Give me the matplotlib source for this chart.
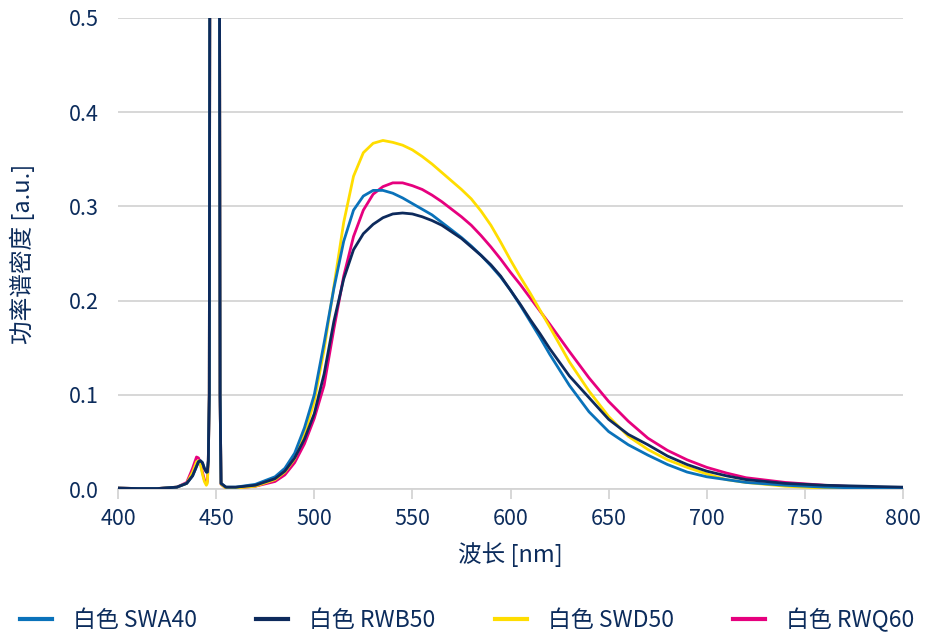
import matplotlib
matplotlib.use('Agg')
import matplotlib.pyplot as plt

plt.rcParams['font.family'] = ['Noto Sans CJK SC', 'DejaVu Sans']

TEXT = '#0c2c5c'
GRID = '#d4d4d4'

# wavelength grid (nm) shared by all four spectra
wavelength = [400, 410, 420, 430, 435, 438, 440, 441, 442, 443, 444, 445, 445.5,
              446, 446.5, 447, 449, 451.5, 452, 452.5, 455, 460, 470, 480, 485,
              490, 495, 500, 505, 510, 515, 520, 525, 530, 535, 540, 545, 550,
              555, 560, 565, 570, 575, 580, 585, 590, 595, 600, 605, 610, 615,
              620, 630, 640, 650, 660, 670, 680, 690, 700, 710, 720, 740, 760,
              780, 800]

swa40 = [0.001, 0.0005, 0.0005, 0.002, 0.006, 0.014, 0.024, 0.029, 0.030, 0.028,
         0.022, 0.018, 0.018, 0.03, 0.1, 0.9, 1.0, 0.9, 0.1, 0.006, 0.002, 0.002,
         0.005, 0.013, 0.022, 0.038, 0.065, 0.100, 0.155, 0.213, 0.263, 0.296,
         0.311, 0.317, 0.317, 0.314, 0.309, 0.303, 0.297, 0.291, 0.283, 0.275,
         0.267, 0.258, 0.248, 0.237, 0.225, 0.211, 0.195, 0.178, 0.161, 0.143,
         0.110, 0.082, 0.061, 0.047, 0.036, 0.026, 0.018, 0.013, 0.010, 0.007,
         0.004, 0.002, 0.001, 0.001]

rwb50 = [0.001, 0.0005, 0.0005, 0.002, 0.006, 0.014, 0.024, 0.029, 0.030, 0.028,
         0.022, 0.018, 0.018, 0.03, 0.1, 0.9, 1.0, 0.9, 0.1, 0.006, 0.002, 0.002,
         0.004, 0.011, 0.019, 0.033, 0.053, 0.080, 0.122, 0.178, 0.223, 0.254,
         0.271, 0.281, 0.288, 0.292, 0.293, 0.292, 0.289, 0.285, 0.280, 0.273,
         0.266, 0.257, 0.248, 0.238, 0.226, 0.211, 0.196, 0.180, 0.165, 0.149,
         0.120, 0.097, 0.074, 0.058, 0.047, 0.035, 0.026, 0.019, 0.014, 0.010,
         0.006, 0.004, 0.003, 0.002]

swd50 = [0.001, 0.0005, 0.0005, 0.002, 0.006, 0.018, 0.029, 0.030, 0.026, 0.016,
         0.008, 0.004, 0.006, 0.03, 0.1, 0.9, 1.0, 0.9, 0.1, 0.005, 0.001, 0.001,
         0.003, 0.010, 0.018, 0.032, 0.058, 0.093, 0.148, 0.215, 0.283, 0.332,
         0.357, 0.367, 0.370, 0.368, 0.365, 0.360, 0.353, 0.345, 0.336, 0.327,
         0.318, 0.308, 0.295, 0.280, 0.262, 0.243, 0.225, 0.208, 0.190, 0.172,
         0.135, 0.104, 0.077, 0.056, 0.042, 0.031, 0.023, 0.016, 0.010, 0.007,
         0.003, 0.001, 0.0005, 0.0005]

rwq60 = [0.001, 0.0005, 0.0005, 0.002, 0.007, 0.022, 0.034, 0.033, 0.028, 0.018,
         0.010, 0.006, 0.008, 0.03, 0.1, 0.9, 1.0, 0.9, 0.1, 0.005, 0.001, 0.001,
         0.003, 0.008, 0.015, 0.028, 0.048, 0.075, 0.110, 0.170, 0.226, 0.268,
         0.296, 0.313, 0.321, 0.325, 0.325, 0.322, 0.318, 0.312, 0.305, 0.297,
         0.289, 0.280, 0.269, 0.257, 0.244, 0.230, 0.217, 0.203, 0.189, 0.175,
         0.146, 0.118, 0.093, 0.072, 0.054, 0.041, 0.031, 0.023, 0.017, 0.012,
         0.007, 0.004, 0.002, 0.001]

series = [
    ('白色 SWA40', swa40, '#0a72ba'),
    ('白色 RWB50', rwb50, '#0d2a5c'),
    ('白色 SWD50', swd50, '#ffdd00'),
    ('白色 RWQ60', rwq60, '#e6007e'),
]
# drawing order puts the dark series on top
draw_order = [3, 2, 0, 1]

fig = plt.figure(figsize=(9.25, 6.38), dpi=100)
ax = fig.add_axes([0.1276, 0.2335, 0.8486, 0.7383])

lines = {}
for i in draw_order:
    label, values, color = series[i]
    ln, = ax.plot(wavelength, values, color=color, lw=2.0, label=label,
                  solid_joinstyle='round', zorder=3 + draw_order.index(i))
    lines[i] = ln

ax.set_xlim(400, 800)
ax.set_ylim(0, 0.5)
ax.set_xticks(range(400, 801, 50))
ax.set_yticks([0.0, 0.1, 0.2, 0.3, 0.4, 0.5])
ax.set_yticklabels(['0.0', '0.1', '0.2', '0.3', '0.4', '0.5'])

ax.grid(axis='y', color=GRID, lw=1.3)
ax.set_axisbelow(True)
for side in ['left', 'right', 'top']:
    ax.spines[side].set_visible(False)
ax.spines['bottom'].set_color(GRID)
ax.spines['bottom'].set_linewidth(1.3)

ax.tick_params(axis='x', colors=GRID, length=7, width=1.3, labelcolor=TEXT,
               labelsize=15.5, pad=7)
ax.tick_params(axis='y', length=0, labelcolor=TEXT, labelsize=15.5, pad=14)

ax.set_xlabel('波长 [nm]', color=TEXT, fontsize=17, labelpad=8)
ax.set_ylabel('功率谱密度 [a.u.]', color=TEXT, fontsize=17, labelpad=24)

handles = [lines[i] for i in range(4)]
leg = fig.legend(handles, [s[0] for s in series], loc='center',
                 bbox_to_anchor=(0.505, 0.028), ncol=4, frameon=False,
                 fontsize=16.5, handlelength=1.4, handletextpad=0.9,
                 columnspacing=2.6)
for t in leg.get_texts():
    t.set_color(TEXT)
for h in leg.get_lines():
    h.set_linewidth(3)

fig.savefig('out.png', dpi=100)
